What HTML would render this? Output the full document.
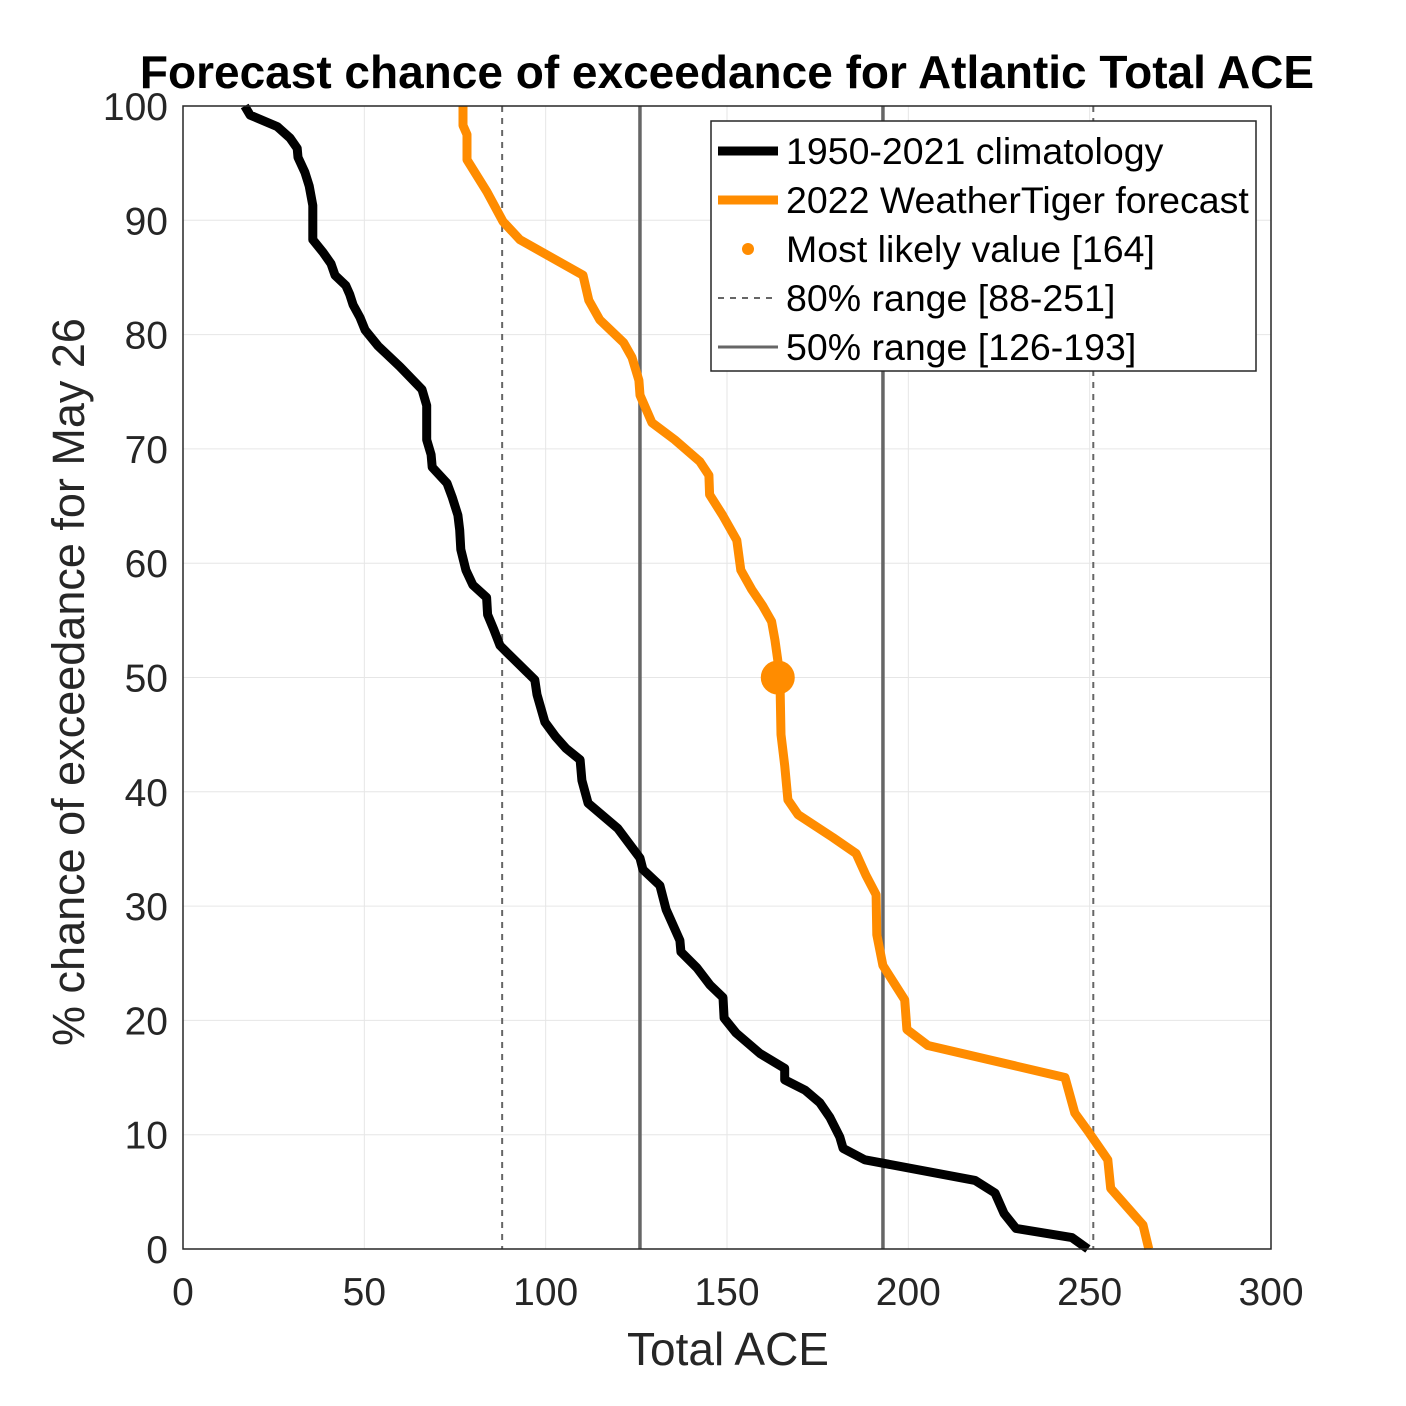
<!DOCTYPE html>
<html><head><meta charset="utf-8"><style>
html,body{margin:0;padding:0;background:#fff;}
svg{display:block;font-family:"Liberation Sans",Arial,sans-serif;}
</style></head><body>
<svg id="chart" width="1406" height="1406" viewBox="0 0 1406 1406">
<rect width="1406" height="1406" fill="#fff"/>
<text x="727" y="88" text-anchor="middle" font-size="46" font-weight="bold">Forecast chance of exceedance for Atlantic Total ACE</text>
<g id="grid"></g>
<g id="vlines"></g>
<g id="series"></g>
<rect x="183" y="106" width="1088" height="1143" fill="none" stroke="#262626" stroke-width="1.5"/>
<g id="ticks"></g>
<text x="728" y="1365" text-anchor="middle" font-size="46" fill="#262626">Total ACE</text>
<text transform="translate(84,682) rotate(-90)" text-anchor="middle" font-size="45" fill="#262626">% chance of exceedance for May 26</text>
<g>
<rect x="711" y="121" width="545" height="250" fill="#fff" stroke="#262626" stroke-width="1.5"/>
<line x1="718" y1="151" x2="778" y2="151" stroke="#000" stroke-width="9"/>
<text x="786" y="164" font-size="37.5">1950-2021 climatology</text>
<line x1="718" y1="200" x2="778" y2="200" stroke="#ff8c00" stroke-width="9"/>
<text x="786" y="213" font-size="37.5">2022 WeatherTiger forecast</text>
<circle cx="748" cy="249" r="6" fill="#ff8c00"/>
<text x="786" y="262" font-size="37.5">Most likely value [164]</text>
<line x1="718" y1="298" x2="778" y2="298" stroke="#666" stroke-width="2" stroke-dasharray="6,6"/>
<text x="786" y="311" font-size="37.5">80% range [88-251]</text>
<line x1="718" y1="347" x2="778" y2="347" stroke="#666" stroke-width="3"/>
<text x="786" y="360" font-size="37.5">50% range [126-193]</text>
</g>
</svg>
<script>
const xTicks=[0,50,100,150,200,250,300];
const yTicks=[0,10,20,30,40,50,60,70,80,90,100];
const climX=[17,18.5,26,29.5,31.5,31.7,33.6,34.8,35.8,35.8,38.6,40.8,41.9,44.9,46,46.9,48.8,50.2,53.8,59.8,65.9,67.2,67.2,68.4,68.7,72.8,74.2,75.8,76.3,76.6,78,79.9,83.7,84,85.7,87.4,89.3,97,97.6,99.8,102.8,105.6,109.5,110,111.7,119.9,126,126.8,131.5,133.2,137,137.3,141.7,145.3,148.9,149.2,152.5,159.1,165.9,165.9,171.5,175.6,178.4,181.1,182,188,218.4,223.9,226.4,229.7,245.1,249.5];
const climY=[100,99.2,98.2,97.2,96.3,95.5,94.2,93,91.3,88.3,87.2,86.2,85.2,84.3,83.5,82.6,81.5,80.4,79,77.2,75.2,73.8,70.8,69.5,68.4,67,65.8,64.2,62.9,61.2,59.4,58.1,57,55.5,54.2,52.8,52.2,49.8,48.5,46.1,44.8,43.8,42.8,41,39,36.8,34.2,33.2,31.8,29.7,27,26,24.6,23.1,22,20.2,18.9,17.1,15.8,14.8,13.9,12.8,11.5,9.8,8.8,7.8,6,4.9,3.1,1.8,1,0];
const fcstX=[77.2,77.2,78.3,78.3,83.8,88.2,92.9,110.3,111.9,114.9,121.5,123.8,125.7,126,129.3,135.6,142.5,145,145.2,148.8,152.7,153.8,156.8,159.8,162.3,163.2,164,164.6,164.9,165.9,166.8,169.6,179.2,185.6,188.3,191.1,191.3,193,199,199.6,205.4,243.2,245.9,249.8,255,255.8,264.7,266.3];
const fcstY=[100,98.3,97.5,95.3,92.5,89.9,88.3,85.2,83,81.3,79.3,78,76,74.7,72.3,70.8,68.9,67.7,66,64.2,62,59.4,57.7,56.3,54.9,53.3,51.5,50,45,42.3,39.3,38,36,34.6,32.7,31,27.5,24.8,21.8,19.2,17.8,15,11.9,10.2,7.8,5.3,2.1,0];
const mostLikely=[164,50];
const range80=[88,251];
const range50=[126,193];
const NS="http://www.w3.org/2000/svg";
const sx=v=>183+v*(1088/300);
const sy=v=>1249-v*(1143/100);
function mk(t,a,p){const e=document.createElementNS(NS,t);for(const k in a)e.setAttribute(k,a[k]);p.appendChild(e);return e;}
const grid=document.getElementById('grid'),ticks=document.getElementById('ticks');
xTicks.forEach(v=>{
 const l=mk('line',{x1:sx(v),x2:sx(v),y1:106,y2:1249,stroke:'#e6e6e6','stroke-width':1},grid);
 
 
 const t=mk('text',{x:sx(v),y:1305,'text-anchor':'middle','font-size':39,fill:'#262626'},ticks);
 t.textContent=v;
 
 
});
yTicks.forEach(v=>{
 const l=mk('line',{x1:183,x2:1271,y1:sy(v),y2:sy(v),stroke:'#e6e6e6','stroke-width':1},grid);
 
 
 const t=mk('text',{x:168,y:sy(v)+14,'text-anchor':'end','font-size':39,fill:'#262626'},ticks);
 t.textContent=v;
 
 
});
const vl=document.getElementById('vlines');
range80.forEach(v=>{
 const l=mk('line',{x1:sx(v),x2:sx(v),y1:106,y2:1249,stroke:'#666','stroke-width':2,'stroke-dasharray':'6,6'},vl);
 
 
});
range50.forEach(v=>{
 const l=mk('line',{x1:sx(v),x2:sx(v),y1:106,y2:1249,stroke:'#666','stroke-width':3.5},vl);
 
 
});
const ser=document.getElementById('series');
function path(xs,ys,c,name){
 const d=xs.map((x,i)=>(i?'L':'M')+sx(x).toFixed(1)+','+sy(ys[i]).toFixed(1)).join('');
 const p=mk('path',{d:d,fill:'none',stroke:c,'stroke-width':9,'stroke-linejoin':'round'},ser);
 
 
}
path(climX,climY,'#000','climatology-line');
path(fcstX,fcstY,'#ff8c00','forecast-line');
const m=mk('circle',{cx:sx(mostLikely[0]),cy:sy(mostLikely[1]),r:17,fill:'#ff8c00'},ser);


</script>
</body></html>
